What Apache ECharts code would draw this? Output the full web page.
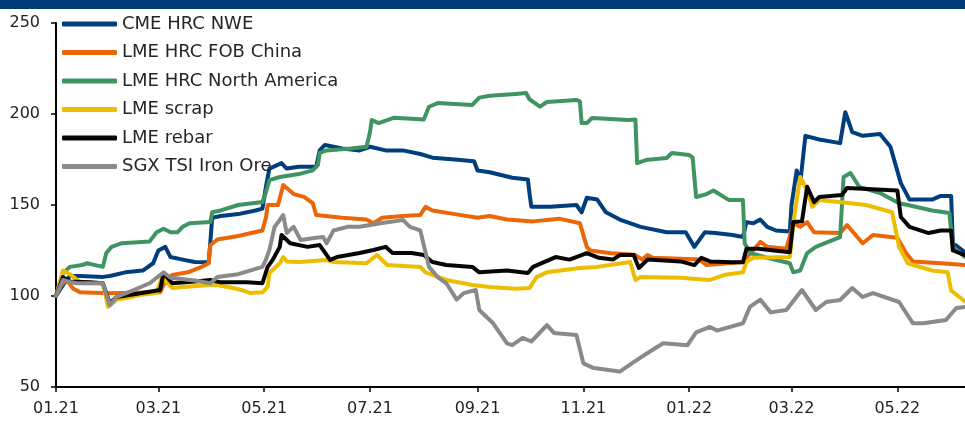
<!DOCTYPE html>
<html>
<head>
<meta charset="utf-8">
<script src="https://cdn.jsdelivr.net/npm/echarts@6/dist/echarts.min.js"></script>
<style>
  html, body { margin: 0; padding: 0; background: #fff; }
  #chart { width: 965px; height: 421px; }
</style>
</head>
<body>
<div id="chart"></div>
<script>
// x values are days counted from 2021-01-01 (last day shown: day 524)
const startYear = 2021;
const lastDay = 524;
const xTickLabels = ['01.21','03.21','05.21','07.21','09.21','11.21','01.22','03.22','05.22'];
const yTicks = [50, 100, 150, 200, 250];

const seriesNames = ['CME HRC NWE','LME HRC FOB China','LME HRC North America','LME scrap','LME rebar','SGX TSI Iron Ore'];

const cmeHrcNwe = [[0,100],[4,106],[8,111],[14,111],[27,110.5],[31,111],[40,113],[50,114],[56,118],[59,125],[63,127],[66,121.4],[73,120],[80,118.7],[88,118.5],[89,130],[90,143],[95,144],[105,145],[115,147],[119,148],[121,160],[123,170],[130,173],[133,170],[140,171],[150,171],[152,180],[155,183],[165,181],[175,180],[181,182],[190,180],[200,180],[210,178],[217,176],[230,175],[241,174],[243,169],[250,168],[263,165],[272,164],[273,156],[274,149],[285,149],[300,150],[303,146],[306,154],[312,153],[317,146],[325,142],[337,138],[352,135],[363,135],[368,127],[371,131],[374,135],[380,134.6],[390,133.5],[396,132.4],[398,140.6],[402,140],[406,142],[410,138],[415,136],[423,135.5],[424,150],[427,169],[429,162],[432,188],[440,186],[452,184],[455,201],[459,190],[465,188],[475,189],[481,182],[487,162],[492,153],[505,153],[510,155],[516,155],[517,129],[524,124]];

const lmeHrcFobChina = [[0,100],[3,106],[6,109],[10,104],[14,102],[30,101.5],[60,102],[63,108],[67,111.5],[76,113],[84,116],[88,118],[89,128],[93,131],[105,133],[119,136],[121,143],[122,150],[128,150],[131,161],[137,156],[143,154.5],[148,151],[150,144.5],[165,143],[179,142],[183,140],[188,143],[200,144],[210,144.5],[213,149],[217,147],[230,145],[243,143],[250,144],[260,142],[275,141],[290,142.5],[302,140],[306,127],[308,125],[320,123.5],[330,123],[334,122.5],[338,120],[341,122.5],[344,121],[360,120.5],[371,120],[375,117],[396,118.7],[406,129.7],[410,127],[421,126],[425,140],[429,138],[433,140.6],[437,135],[452,134.6],[456,139],[465,129],[471,133.5],[485,132],[490,123.6],[494,119],[510,118],[524,117]];

const lmeHrcNorthAmerica = [[0,100],[4,112.6],[8,116],[15,117],[18,118],[27,116],[29,123.6],[32,127],[38,129],[54,130],[58,135],[62,137],[66,135],[70,135],[73,138],[77,140],[89,140.6],[90,146],[95,147],[105,150],[119,151.6],[121,157],[123,163.7],[129,165.4],[140,167],[148,169],[151,172],[152,178.6],[156,180],[170,181],[179,182],[181,190],[182,196.7],[186,195],[195,198],[212,197],[215,204],[220,206],[240,205],[244,209],[250,210],[265,211],[271,211.5],[273,208],[279,204],[283,206.6],[300,207.7],[302,207],[303,195],[306,195],[309,197.8],[330,196.7],[334,197],[335,173],[340,174.7],[352,175.8],[355,178.6],[365,177.5],[367,176],[369,154.4],[375,156],[379,158],[388,152.7],[396,152.7],[397,129],[400,123.6],[410,121],[423,118],[425,113],[429,114],[433,123.6],[438,127],[452,132.4],[454,165.4],[458,167.6],[463,160],[475,156.6],[486,151],[491,150],[505,147],[515,145.6],[517,127],[524,121.4]];

const lmeScrap = [[0,100],[4,114],[8,112],[12,109],[15,107],[27,107],[30,94],[35,98],[44,99.5],[48,100.5],[58,101.6],[61,110.4],[67,104.4],[73,105],[89,106],[93,106],[104,104],[108,103],[112,101.6],[119,102],[122,105],[123,112.6],[129,118],[131,121.4],[133,119],[140,118.7],[156,119.8],[160,118.7],[179,118],[185,122.5],[191,117],[210,116],[213,113],[225,108.8],[240,106],[250,105],[265,104],[273,104.4],[277,110.4],[283,113],[302,115.4],[312,116],[331,118.7],[334,108.8],[337,110.4],[360,110],[377,108.8],[385,111.5],[396,113],[398,118.7],[402,121],[423,121.4],[425,140],[429,165.4],[433,158],[436,149],[440,152.7],[458,151],[467,150],[482,146],[486,127],[491,118],[505,114],[514,113],[516,103],[524,97]];

const lmeRebar = [[0,100],[4,110.4],[8,108],[20,107.5],[27,107],[31,96],[35,99.5],[45,101],[60,103.3],[62,112.6],[67,107],[80,108],[89,108.8],[95,107.5],[110,107.5],[119,107],[122,116],[125,120],[129,127],[130,133.5],[135,129],[145,127],[152,128],[158,119.8],[162,121.4],[175,123.6],[183,125.3],[190,127],[194,123.6],[205,123.6],[212,122.5],[217,118.7],[225,117],[240,116],[244,113],[260,114],[272,112.6],[275,116],[288,121.4],[296,120],[306,123.6],[313,121],[321,120],[325,122.5],[333,122.5],[336,115.4],[341,120],[360,119],[368,117],[372,121],[377,119],[390,118.5],[396,118.5],[398,126],[405,126],[423,124],[425,140.6],[430,141],[433,160],[437,151.6],[440,154.4],[453,155.5],[456,159.3],[485,158],[487,143.4],[492,138],[503,134.6],[510,136],[516,136],[517,125],[524,122.5]];

const sgxTsiIronOre = [[0,100],[4,108.8],[8,107.7],[12,107],[27,107],[31,95],[35,99.5],[44,103],[54,107],[58,110],[62,113],[66,110],[80,108.5],[89,107],[93,110.4],[105,112],[119,116],[121,120],[123,125.3],[126,138],[129,141.8],[131,144.5],[133,134.6],[137,138],[141,130.8],[150,132],[154,132.4],[156,129],[160,136],[168,138],[175,138],[187,140],[192,140.6],[200,141.8],[204,138],[210,136],[215,116],[220,110.4],[225,107],[231,98],[235,101.6],[242,103.3],[244,92.3],[252,85],[260,74],[263,73],[269,77],[274,75],[283,84],[287,79.7],[300,78.6],[304,63],[310,60.4],[325,58.5],[333,63.7],[341,68.7],[350,74],[364,73],[369,80],[377,83],[381,81],[396,85],[400,94],[406,98],[412,91],[421,92.3],[430,103.3],[438,92.3],[444,96.7],[452,97.8],[459,104.4],[465,99.5],[471,101.6],[486,96.7],[494,85],[500,85],[513,86.8],[519,93.4],[524,94]];

const seriesValues = [cmeHrcNwe, lmeHrcFobChina, lmeHrcNorthAmerica, lmeScrap, lmeRebar, sgxTsiIronOre];
const seriesColors = ['#003E7E', '#EC6608', '#3F9461', '#EDBD00', '#0A0505', '#8A8A8A'];

// build daily categories
const categories = [];
for (let d = 0; d <= lastDay; d++) {
  const dt = new Date(Date.UTC(startYear, 0, 1) + d * 86400000);
  categories.push(dt.toISOString().slice(0, 10));
}
function catLabel(v) {
  return v.slice(5, 7) + '.' + v.slice(2, 4);
}
function isTick(idx, v) {
  return v.slice(8, 10) === '01' && xTickLabels.indexOf(catLabel(v)) >= 0;
}

const font = 'DejaVu Sans';
const chart = echarts.init(document.getElementById('chart'), null, { renderer: 'canvas' });

chart.setOption({
  animation: false,
  backgroundColor: '#ffffff',
  textStyle: { fontFamily: font },
  graphic: [{
    type: 'rect', left: 0, top: 0, z: 100,
    shape: { width: 965, height: 9 },
    style: { fill: '#003A78' }
  }],
  grid: { left: 56, right: 0, top: 23, bottom: 34, containLabel: false },
  legend: {
    orient: 'vertical',
    left: 62, top: 15, padding: 0,
    itemWidth: 55, itemHeight: 5, itemGap: 10.5,
    icon: 'roundRect',
    data: seriesNames,
    textStyle: { fontFamily: font, fontSize: 18, lineHeight: 18, color: '#262626' }
  },
  xAxis: {
    type: 'category',
    data: categories,
    boundaryGap: false,
    axisLine: { lineStyle: { color: '#000', width: 2 } },
    axisTick: { interval: isTick, length: 5, lineStyle: { color: '#000', width: 1.5 } },
    axisLabel: {
      interval: isTick, formatter: catLabel, margin: 14,
      fontFamily: font, fontSize: 16, color: '#222'
    },
    splitLine: { show: false }
  },
  yAxis: {
    type: 'value',
    min: yTicks[0], max: yTicks[yTicks.length - 1], interval: 50,
    axisLine: { show: true, lineStyle: { color: '#000', width: 2 } },
    axisTick: { show: true, length: 5, lineStyle: { color: '#000', width: 1.5 } },
    axisLabel: { margin: 16, fontFamily: font, fontSize: 16, color: '#222' },
    splitLine: { show: false }
  },
  series: seriesNames.map((name, i) => ({
    name: name,
    type: 'line',
    data: seriesValues[i],
    showSymbol: false,
    symbol: 'none',
    color: seriesColors[i],
    lineStyle: { width: 4, color: seriesColors[i], cap: 'round', join: 'round' },
    z: 2 + i
  }))
});
</script>
</body>
</html>
